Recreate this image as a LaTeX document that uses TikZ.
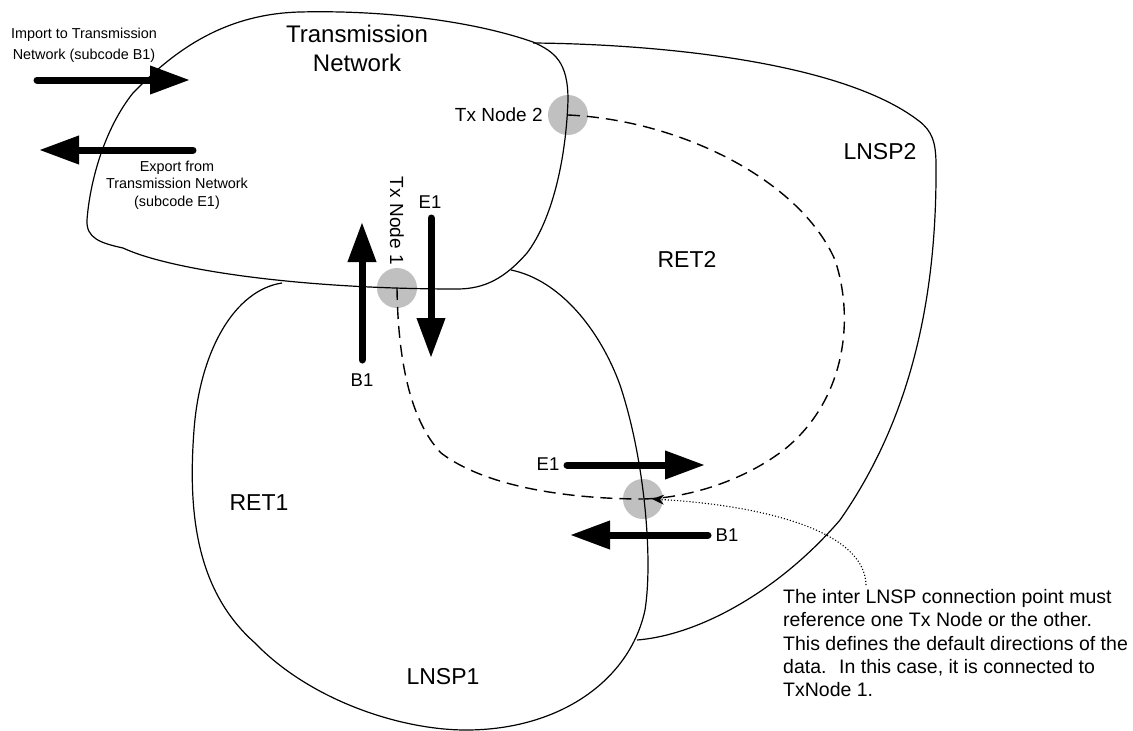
\documentclass[tikz,border=0pt]{standalone}
\usepackage{fontspec}
\setmainfont{Liberation Sans}
\usepackage{xcolor}
\usetikzlibrary{arrows.meta}
\definecolor{txgray}{RGB}{192,192,192}
\tikzset{
	blob/.style={draw=black, line width=1.2pt},
	txnode/.style={circle, fill=txgray, minimum size=40pt, inner sep=0pt},
	flowarrow/.style={line width=7pt, line cap=round,
			-{Triangle[length=40pt,width=27pt]}},
	linkline/.style={dash pattern=on 12pt off 7pt, line width=1.4pt},
	calloutline/.style={dotted, line width=1.1pt,
			-{Stealth[length=12pt,width=10pt]}},
	arealabel/.style={font=\fontsize{23}{27}\selectfont},
	codelabel/.style={font=\fontsize{18.5}{22}\selectfont, inner sep=1pt},
	smalltext/.style={font=\fontsize{14.4}{21}\selectfont, align=center}
}

\begin{document}
\begin{tikzpicture}[x=1pt, y=-1pt]
			\useasboundingbox (0,0) rectangle (1133,731);
			\fill[white] (0,0) rectangle (1133,731);

			% Tx nodes and connection point
			\node[txnode] (tx1) at (397,288) {};
			\node[txnode] (tx2) at (568,115) {};
			\node[txnode] (ilc) at (643,499) {};

			% Transmission Network
			\draw[blob] (123,248) .. controls (170,270) and (300,289) .. (457,289)
				.. controls (485,289) and (505,278) .. (527,253)
				.. controls (552,220) and (566,160) .. (568,100)
				.. controls (568,62) and (555,52) .. (533,42)
				.. controls (470,20) and (380,10) .. (300,12)
				.. controls (220,14) and (170,55) .. (133,93)
				.. controls (105,128) and (90,180) .. (87,220)
				.. controls (86,238) and (100,243) .. (123,248) -- cycle;

			% LNSP1
			\draw[blob] (282,283) .. controls (235,290) and (200,350) .. (194,430)
				.. controls (188,510) and (195,590) .. (255,643)
				.. controls (310,700) and (400,730) .. (466,730)
				.. controls (560,730) and (630,680) .. (645,610)
				.. controls (653,560) and (645,460) .. (620,385)
				.. controls (600,330) and (560,280) .. (511,270);

			% LNSP2
			\draw[blob] (533,43) .. controls (650,44) and (840,60) .. (919,121)
				.. controls (932,131) and (936,142) .. (936,165)
				.. controls (937,300) and (910,420) .. (840,520)
				.. controls (780,590) and (700,635) .. (637,640);

			% Links to the connection point
			\draw[linkline] (tx2.center) .. controls (680,120) and (800,180) .. (835,260)
				.. controls (855,320) and (845,400) .. (785,449)
				.. controls (745,480) and (690,498) .. (ilc.center);
			\draw[linkline] (tx1.center) .. controls (398,360) and (410,420) .. (441,453)
				.. controls (490,490) and (580,499) .. (ilc.center);

			% Area labels
			\node[arealabel, align=center, font=\fontsize{24}{29}\selectfont] (tn) at (357,48) {Transmission\\Network};
			\node[arealabel] (ret1) at (259,503) {RET1};
			\node[arealabel] (ret2) at (687,259) {RET2};
			\node[arealabel] (lnsp1) at (443,677) {LNSP1};
			\node[arealabel] (lnsp2) at (880,152) {LNSP2};

			% Tx node labels
			\node[font=\fontsize{19}{23}\selectfont, anchor=east, inner sep=5pt] (tx2lbl) at (tx2.west) {Tx Node 2};
			\node[font=\fontsize{19}{23}\selectfont, rotate=-90, anchor=east, inner sep=3pt] (tx1lbl) at (tx1.north) {Tx Node 1};

			% Import / export at the grid
			\coordinate (imp0) at (37,80);
			\coordinate (imp1) at (190,80);
			\coordinate (exp0) at (193,150);
			\coordinate (exp1) at (39,150);
			\draw[flowarrow] (imp0) -- (imp1);
			\draw[flowarrow] (exp0) -- (exp1);
			\node[smalltext] (imptxt) at (84,45) {Import to Transmission\\Network (subcode B1)};
			\node[smalltext, font=\fontsize{14.4}{17.5}\selectfont] (exptxt) at (177,185) {Export from\\Transmission Network\\(subcode E1)};

			% Flows at Tx Node 1
			\coordinate (b1up0) at (362,360);
			\coordinate (b1up1) at (362,222);
			\coordinate (e1dn0) at (431,218);
			\coordinate (e1dn1) at (431,358);
			\draw[flowarrow] (b1up0) -- (b1up1);
			\draw[flowarrow] (e1dn0) -- (e1dn1);
			\node[codelabel] (b1a) at (362,380) {B1};
			\node[codelabel] (e1a) at (430,202) {E1};

			% Flows at the connection point
			\coordinate (e1rt0) at (567,465);
			\coordinate (e1rt1) at (705,465);
			\coordinate (b1lt0) at (708,535);
			\coordinate (b1lt1) at (570,535);
			\draw[flowarrow] (e1rt0) -- (e1rt1);
			\draw[flowarrow] (b1lt0) -- (b1lt1);
			\node[codelabel] (e1b) at (548,464) {E1};
			\node[codelabel] (b1b) at (727,535) {B1};

			% Note
			\node[anchor=north west, align=left, inner sep=0pt, font=\fontsize{19.5}{23.4}\selectfont] (note) at (783,589) {The inter LNSP connection point must\\reference one Tx Node or the other.\\This defines the default directions of the\\data.~ In this case, it is connected to\\TxNode 1.};
			\coordinate (notetop) at (866,585);
			\draw[calloutline] (notetop) .. controls (865,530) and (760,505) .. ([xshift=9pt]ilc.center);
		\end{tikzpicture}
\end{document}
